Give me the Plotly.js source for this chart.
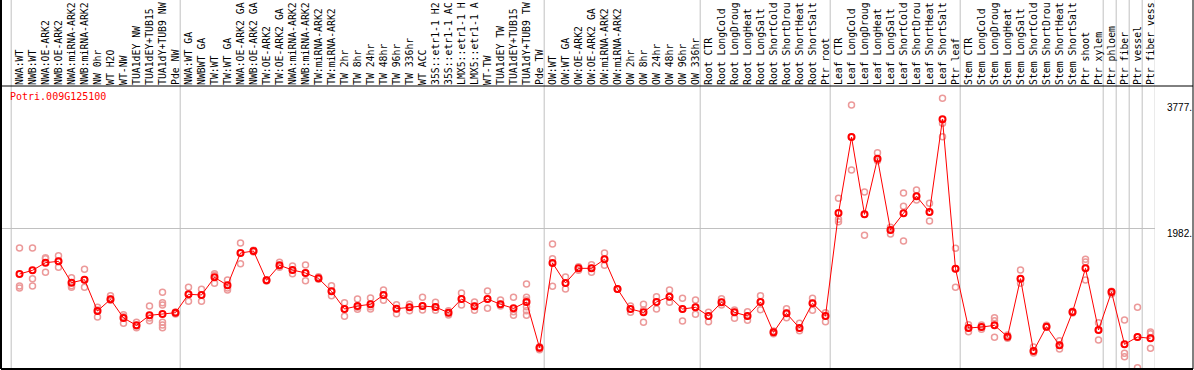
<!DOCTYPE html>
<html>
<head>
<meta charset="utf-8">
<script src="https://cdn.plot.ly/plotly-3.0.1.min.js"></script>
<style>html,body{margin:0;padding:0;background:#fff;}#chart{width:1194px;height:370px;}</style>
</head>
<body>
<div id="chart"></div>
<script>
const categories = ["NWA:WT","NWB:WT","NWA:OE-ARK2","NWB:OE-ARK2","NWA:miRNA-ARK2","NWB:miRNA-ARK2","NW 0hr","WT H2O","WT-NW","TUA1dEY NW","TUA1dEY+TUB15","TUA1dY+TUB9 NW","Pde NW",
"NWA:WT GA","NWBWT GA","TW:WT","TW:WT GA","NWA:OE-ARK2 GA","NWB:OE-ARK2 GA","TW:OE-ARK2","TW:OE-ARK2 GA","NWA:miRNA-ARK2 GA","NWB:miRNA-ARK2 GA","TW:miRNA-ARK2","TW:miRNA-ARK2 GA","TW 2hr","TW 8hr","TW 24hr","TW 48hr","TW 96hr","TW 336hr","WT ACC","35S::etr1-1 H2O","35S::etr1-1 ACC","LMX5::etr1-1 H2O","LMX5::etr1-1 ACC","WT-TW","TUA1dEY TW","TUA1dEY+TUB15","TUA1dY+TUB9 TW","Pde TW",
"OW:WT","OW:WT GA","OW:OE-ARK2","OW:OE-ARK2 GA","OW:miRNA-ARK2","OW:miRNA-ARK2 GA","OW 2hr","OW 8hr","OW 24hr","OW 48hr","OW 96hr","OW 336hr",
"Root CTR","Root LongCold","Root LongDrought","Root LongHeat","Root LongSalt","Root ShortCold","Root ShortDrought","Root ShortHeat","Root ShortSalt","Ptr root",
"Leaf CTR","Leaf LongCold","Leaf LongDrought","Leaf LongHeat","Leaf LongSalt","Leaf ShortCold","Leaf ShortDrought","Leaf ShortHeat","Leaf ShortSalt","Ptr leaf",
"Stem CTR","Stem LongCold","Stem LongDrought","Stem LongHeat","Stem LongSalt","Stem ShortCold","Stem ShortDrought","Stem ShortHeat","Stem ShortSalt","Ptr shoot",
"Ptr xylem","Ptr phloem","Ptr fiber","Ptr vessel","Ptr fiber vessel"];

const meanVals = [1340,1391,1498,1517,1219,1261,824,986,726,623,763,782,800,
1057,1047,1293,1182,1633,1661,1252,1461,1396,1354,1279,1098,851,893,917,1047,856,875,893,879,800,991,889,991,917,861,949,312,
1494,1214,1419,1419,1545,1131,851,805,949,1024,851,875,
754,945,805,754,949,526,791,586,931,754,
2191,3252,2173,2950,1954,2187,2424,2205,3499,1414,
586,600,623,465,1275,265,605,344,809,1419,
558,1089,358,461,442];

const repA = [1703,1703,1568,1596,1289,1405,875,1038,772,665,893,940,809,
1154,1126,1345,1256,1773,1670,1261,1503,1452,1466,1303,1177,940,991,1005,1117,912,917,1014,945,828,1075,949,1103,977,1014,1014,326,
1759,1298,1442,1470,1633,1131,893,917,1024,1117,1000,977,
805,996,837,814,1038,544,856,651,1000,800,
2396,3699,2484,3034,1991,2471,2512,2326,3792,1698,
633,628,730,489,1396,321,623,410,819,1545,
661,1098,698,875,530];

const repB = [1173,1275,1554,1517,1177,1261,837,991,744,614,726,665,791,
1057,1047,1321,1145,1633,1661,1252,1452,1396,1354,1279,1098,851,875,884,1047,856,875,893,879,800,991,889,991,917,814,884,302,
1554,1214,1419,1419,1545,1131,851,837,949,1024,851,875,
754,945,805,754,949,526,791,586,931,754,
2103,3252,2173,2950,1954,2284,2424,2205,3443,1414,
586,600,689,465,1275,265,605,344,809,1507,
558,1089,233,461,507];

const repC = [1145,1173,1363,1433,1154,1154,740,972,651,591,689,591,782,
958,958,1210,1117,1484,1647,1242,1433,1345,1247,1265,1038,749,847,851,972,786,828,837,833,768,907,833,861,893,763,763,284,
1168,1131,1391,1363,1461,1126,805,665,851,945,684,777,
675,907,721,693,842,507,730,549,833,675,
2070,2792,1880,2922,1898,1801,2373,2080,3257,1154,
535,568,456,442,1210,237,596,293,796,1256,
419,1061,186,32,302];

const extraIdx = [11,11,11,39,39,39];
const extraVals = [1084,907,628,1201,977,828];

const groupStarts = [0,13,41,53,63,73,84,85,86,87,88];
const axisLabels = [3777, 1982, 0];
const geneName = "Potri.009G125100";
const maxLabelChars = 14;

const idx = categories.map((c, i) => i);
const shownLabels = categories.map(c => c.length > maxLabelChars ? c.slice(0, maxLabelChars) : c);
const repX = [].concat(idx, idx, idx, extraIdx);
const repY = [].concat(repA, repB, repC, extraVals);

const mono = "DejaVu Sans Mono, Liberation Mono, monospace";
const sans = "Liberation Sans, Arial, sans-serif";

const traces = [
  {x: repX, y: repY, type: 'scatter', mode: 'markers', hoverinfo: 'skip',
   marker: {symbol: 'circle-open', size: 6, color: '#ec9a9a', line: {width: 1.5, color: '#ec9a9a'}}},
  {x: idx, y: meanVals, type: 'scatter', mode: 'lines+markers',
   line: {color: '#ff0000', width: 1},
   marker: {symbol: 'circle-open', size: 6, color: '#ff0000', line: {width: 2, color: '#ff0000'}}}
];

// geometry: plot area px x 1..1155, y 86..369
const topPaper = 369 / 283;      // image top in paper units
const rightPaper = 1192 / 1154;  // right frame line

const shapes = [];
groupStarts.forEach(s => {
  shapes.push({type: 'line', xref: 'x', yref: 'paper', x0: s - 0.64, x1: s - 0.64, y0: 0, y1: topPaper,
    line: {color: '#c0c0c0', width: 1}, layer: 'below'});
});
shapes.push({type: 'line', xref: 'paper', yref: 'paper', x0: 0, x1: 0, y0: 0, y1: topPaper, line: {color: '#000', width: 2}});
shapes.push({type: 'line', xref: 'paper', yref: 'paper', x0: 0, x1: rightPaper, y0: 1, y1: 1, line: {color: '#000', width: 1}});
shapes.push({type: 'line', xref: 'paper', yref: 'paper', x0: 0, x1: rightPaper, y0: 0, y1: 0, line: {color: '#000', width: 2}});
shapes.push({type: 'line', xref: 'paper', yref: 'paper', x0: rightPaper, x1: rightPaper, y0: 0, y1: topPaper, line: {color: '#000', width: 1}});

const labelX = 1164 / 1154;
const annotations = [
  {xref: 'paper', yref: 'y', x: labelX, y: axisLabels[0], text: axisLabels[0] + '.', showarrow: false, xanchor: 'left', yanchor: 'top', yshift: -1, font: {family: sans, size: 10, color: '#000'}},
  {xref: 'paper', yref: 'y', x: labelX, y: axisLabels[1], text: axisLabels[1] + '.', showarrow: false, xanchor: 'left', yanchor: 'top', yshift: 2, font: {family: sans, size: 10, color: '#000'}},
  {xref: 'paper', yref: 'y', x: labelX, y: axisLabels[2], text: String(axisLabels[2]), showarrow: false, xanchor: 'left', yanchor: 'bottom', yshift: 1, font: {family: sans, size: 10, color: '#000'}}
];

const layout = {
  width: 1194, height: 370,
  margin: {l: 1, r: 39, t: 86, b: 1, pad: 0},
  paper_bgcolor: '#ffffff', plot_bgcolor: 'rgba(0,0,0,0)',
  showlegend: false,
  title: {text: geneName, xref: 'paper', yref: 'paper', x: 0.0078, y: 0.963, xanchor: 'left', yanchor: 'middle',
          font: {family: mono, size: 10, color: '#ff0000'}},
  xaxis: {range: [-1.423, 87.346], side: 'top', tickmode: 'array', tickvals: idx, ticktext: shownLabels,
          tickangle: -90, ticklen: 0, showgrid: false, zeroline: false, showline: false, automargin: false,
          tickfont: {family: mono, size: 9.8, color: '#000'}},
  yaxis: {range: [14, 3964], tickmode: 'array', tickvals: [axisLabels[1]], showticklabels: false, ticklen: 0,
          showgrid: true, gridcolor: '#c0c0c0', gridwidth: 1, zeroline: false, showline: false, automargin: false},
  shapes: shapes,
  annotations: annotations
};

Plotly.newPlot('chart', traces, layout, {staticPlot: true, displayModeBar: false});
</script>
</body>
</html>
